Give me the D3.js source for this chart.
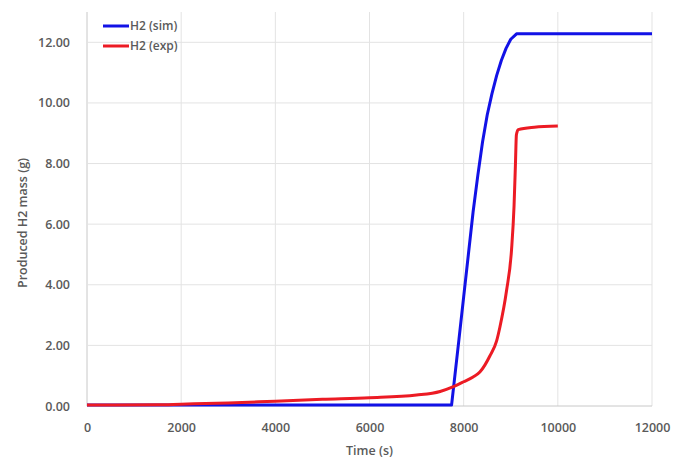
<!DOCTYPE html>
<html>
<head>
<meta charset="utf-8">
<script src="https://cdn.jsdelivr.net/npm/d3@7"></script>
<style>
  body { margin: 0; background: #fff; }
  text { font-family: "Open Sans", "DejaVu Sans", sans-serif; }
</style>
</head>
<body>
<div id="chart"></div>
<script>
// time (s) and produced H2 mass (g)
const simTime = [0, 7743, 7900, 8000, 8100, 8200, 8300, 8400, 8500, 8600, 8700, 8800, 8900, 9000, 9123, 12000];
const simMass = [0.03, 0.03, 2.2, 3.6, 5.0, 6.4, 7.6, 8.7, 9.6, 10.3, 10.9, 11.4, 11.8, 12.1, 12.28, 12.28];

const expTime = [0, 1500, 2000, 3000, 4000, 5000, 6000, 7000, 7500, 7770, 8000, 8200, 8344, 8450, 8556, 8700, 8769, 8910, 9017, 9070, 9100, 9120, 9160, 9500, 10000];
const expMass = [0.03, 0.04, 0.06, 0.1, 0.16, 0.22, 0.27, 0.36, 0.48, 0.63, 0.8, 0.96, 1.12, 1.35, 1.65, 2.15, 2.6, 3.8, 5.16, 6.6, 8.0, 8.95, 9.12, 9.2, 9.24];

const xTicks = [0, 2000, 4000, 6000, 8000, 10000, 12000];
const yTicks = [0, 2, 4, 6, 8, 10, 12];

const series = [
  {name: "H2 (sim)", color: "#1212e6", t: simTime, m: simMass, curve: d3.curveLinear},
  {name: "H2 (exp)", color: "#ec1b24", t: expTime, m: expMass, curve: d3.curveMonotoneX}
];

const width = 676, height = 461;
const margin = {top: 12, right: 24, bottom: 55, left: 87};

const svg = d3.select("#chart")
  .append("svg")
  .attr("width", width)
  .attr("height", height);

const x = d3.scaleLinear()
  .domain([0, 12000])
  .range([margin.left, width - margin.right]);

const y = d3.scaleLinear()
  .domain([0, 13])
  .range([height - margin.bottom, margin.top]);

// gridlines
svg.append("g")
  .selectAll("line")
  .data(xTicks)
  .join("line")
  .attr("x1", d => x(d)).attr("x2", d => x(d))
  .attr("y1", y(13)).attr("y2", y(0))
  .attr("stroke", d => d === 0 ? "#c8c8c8" : "#e3e3e3")
  .attr("stroke-width", 1);

svg.append("g")
  .selectAll("line")
  .data(yTicks)
  .join("line")
  .attr("x1", x(0)).attr("x2", x(12000))
  .attr("y1", d => y(d)).attr("y2", d => y(d))
  .attr("stroke", d => d === 0 ? "#c8c8c8" : "#e3e3e3")
  .attr("stroke-width", 1);

// axes (labels only)
const xAxis = svg.append("g")
  .attr("transform", `translate(0,${y(0)})`)
  .call(d3.axisBottom(x).tickValues(xTicks).tickSize(0).tickPadding(17).tickFormat(d3.format("d")));
xAxis.select(".domain").remove();

const yAxis = svg.append("g")
  .attr("transform", `translate(${x(0)},0)`)
  .call(d3.axisLeft(y).tickValues(yTicks).tickSize(0).tickPadding(17).tickFormat(d3.format(".2f")));
yAxis.select(".domain").remove();

svg.selectAll(".tick text")
  .style("font-family", "'Open Sans', sans-serif")
  .style("font-size", "12.5px")
  .style("font-weight", "600")
  .attr("fill", "#5a5a5a");

svg.append("text")
  .attr("x", (x(0) + x(12000)) / 2)
  .attr("y", 455)
  .attr("text-anchor", "middle")
  .style("font-size", "12.5px")
  .style("font-weight", "600")
  .attr("fill", "#5a5a5a")
  .text("Time (s)");

svg.append("text")
  .attr("transform", `translate(27,${(y(0) + y(13)) / 2 + 14}) rotate(-90)`)
  .attr("text-anchor", "middle")
  .style("font-size", "12.5px")
  .style("font-weight", "600")
  .attr("fill", "#5a5a5a")
  .text("Produced H2 mass (g)");

// lines
series.forEach(s => {
  const pts = s.t.map((t, i) => [t, s.m[i]]);
  const line = d3.line()
    .curve(s.curve)
    .x(d => x(d[0]))
    .y(d => y(d[1]));
  svg.append("path")
    .datum(pts)
    .attr("fill", "none")
    .attr("stroke", s.color)
    .attr("stroke-width", 3)
    .attr("stroke-linejoin", "round")
    .attr("d", line);
});

// legend
const legend = svg.append("g")
  .attr("transform", "translate(103,26)");

legend.selectAll("line")
  .data(series)
  .join("line")
  .attr("x1", 0).attr("x2", 26)
  .attr("y1", (d, i) => i * 20).attr("y2", (d, i) => i * 20)
  .attr("stroke", d => d.color)
  .attr("stroke-width", 3);

legend.selectAll("text")
  .data(series)
  .join("text")
  .attr("x", 27)
  .attr("y", (d, i) => i * 20)
  .attr("dy", "0.35em")
  .style("font-size", "12px")
  .style("font-weight", "600")
  .attr("fill", "#5a5a5a")
  .text(d => d.name);
</script>
</body>
</html>
